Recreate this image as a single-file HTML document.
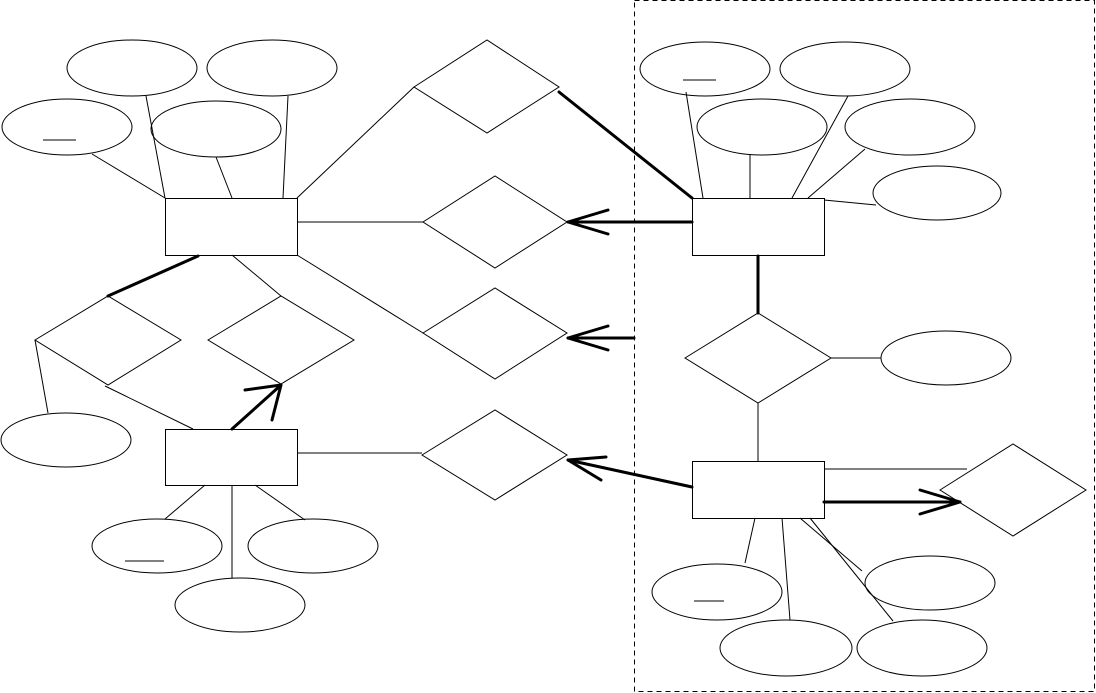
<!DOCTYPE html>
<html><head><meta charset="utf-8"><style>html,body{margin:0;padding:0;background:#fff}svg{display:block}</style></head>
<body>
<svg width="1096" height="693" viewBox="0 0 1096 693" xmlns="http://www.w3.org/2000/svg">
<g fill="none" stroke="#000" stroke-width="1">
<rect x="634.5" y="0.5" width="460" height="691" stroke-dasharray="5,4"/>
<!-- ellipses -->
<ellipse cx="132" cy="68" rx="65" ry="28"/>
<ellipse cx="272" cy="68" rx="65" ry="28"/>
<ellipse cx="67" cy="127" rx="65" ry="28"/>
<ellipse cx="216" cy="129" rx="65" ry="28"/>
<ellipse cx="66" cy="440" rx="65" ry="27"/>
<ellipse cx="157" cy="546" rx="65" ry="27"/>
<ellipse cx="313" cy="546" rx="65" ry="27"/>
<ellipse cx="240" cy="605" rx="65" ry="27"/>
<ellipse cx="705" cy="69" rx="65" ry="27"/>
<ellipse cx="845" cy="69" rx="65" ry="27"/>
<ellipse cx="762" cy="127" rx="65" ry="28"/>
<ellipse cx="910" cy="127" rx="65" ry="28"/>
<ellipse cx="937" cy="193" rx="64" ry="27"/>
<ellipse cx="946" cy="358" rx="65" ry="27"/>
<ellipse cx="717" cy="592" rx="65" ry="28"/>
<ellipse cx="930" cy="583" rx="65" ry="27"/>
<ellipse cx="786" cy="648" rx="66" ry="28"/>
<ellipse cx="922" cy="648" rx="65" ry="28"/>
<!-- underlines -->
<line x1="43" y1="140" x2="76" y2="140"/>
<line x1="125" y1="561" x2="164" y2="561"/>
<line x1="683" y1="80" x2="716" y2="80"/>
<line x1="694" y1="601" x2="724" y2="601"/>
<!-- rects -->
<rect x="165.5" y="198.5" width="132" height="57"/>
<rect x="165.5" y="429.5" width="132" height="56"/>
<rect x="692.5" y="198.5" width="132" height="57"/>
<rect x="692.5" y="461.5" width="132" height="57"/>
<!-- diamonds -->
<polygon points="414,87 487,40 559,87 487,133"/>
<polygon points="423,222 495,176 567,222 495,268"/>
<polygon points="423,333 495,288 567,333 495,379"/>
<polygon points="35,340 108,296 181,340 108,385"/>
<polygon points="208,340 281,296 354,340 281,384"/>
<polygon points="422,455 495,410 567,455 495,500"/>
<polygon points="685,358 758,313 831,358 758,403"/>
<polygon points="940,490 1013,444 1086,490 1013,536"/>
<!-- thin lines -->
<line x1="146" y1="96" x2="165" y2="198"/>
<line x1="288" y1="96" x2="283" y2="198"/>
<line x1="92" y1="154" x2="165" y2="198"/>
<line x1="216" y1="157" x2="232" y2="198"/>
<line x1="297" y1="198" x2="414" y2="87"/>
<line x1="297" y1="222" x2="423" y2="222"/>
<line x1="297" y1="255" x2="423" y2="333"/>
<line x1="232" y1="255" x2="281" y2="296"/>
<line x1="35" y1="340" x2="48" y2="413"/>
<line x1="105" y1="386" x2="193" y2="429"/>
<line x1="297" y1="453" x2="422" y2="453"/>
<line x1="205" y1="485" x2="165" y2="519"/>
<line x1="232" y1="485" x2="232" y2="578"/>
<line x1="255" y1="485" x2="305" y2="520"/>
<line x1="686" y1="92" x2="703" y2="198"/>
<line x1="750" y1="155" x2="750" y2="198"/>
<line x1="848" y1="96" x2="792" y2="198"/>
<line x1="865" y1="149" x2="808" y2="198"/>
<line x1="876" y1="205" x2="824" y2="200"/>
<line x1="758" y1="403" x2="758" y2="461"/>
<line x1="831" y1="358" x2="881" y2="358"/>
<line x1="824" y1="469" x2="967" y2="469"/>
<line x1="755" y1="518" x2="745" y2="563"/>
<line x1="782" y1="518" x2="790" y2="620"/>
<line x1="800" y1="518" x2="862" y2="571"/>
<line x1="810" y1="518" x2="893" y2="621"/>
</g>
<g fill="none" stroke="#000" stroke-width="3" stroke-linecap="round" stroke-linejoin="round">
<line x1="559" y1="92" x2="692" y2="198"/>
<line x1="692" y1="222" x2="568" y2="222"/>
<polyline points="608,210 568,222 608,234"/>
<line x1="634" y1="338" x2="568" y2="338"/>
<polyline points="608,326 568,338 608,350"/>
<line x1="198" y1="256" x2="108" y2="296"/>
<line x1="232" y1="429" x2="281" y2="385"/>
<polyline points="245,390 281,385 272,420"/>
<line x1="692" y1="487" x2="568" y2="460"/>
<polyline points="606,457 568,460 601,480"/>
<line x1="758" y1="256" x2="758" y2="313"/>
<line x1="824" y1="502" x2="960" y2="502"/>
<polyline points="920,490 960,502 920,514"/>
</g>
</svg>
</body></html>
